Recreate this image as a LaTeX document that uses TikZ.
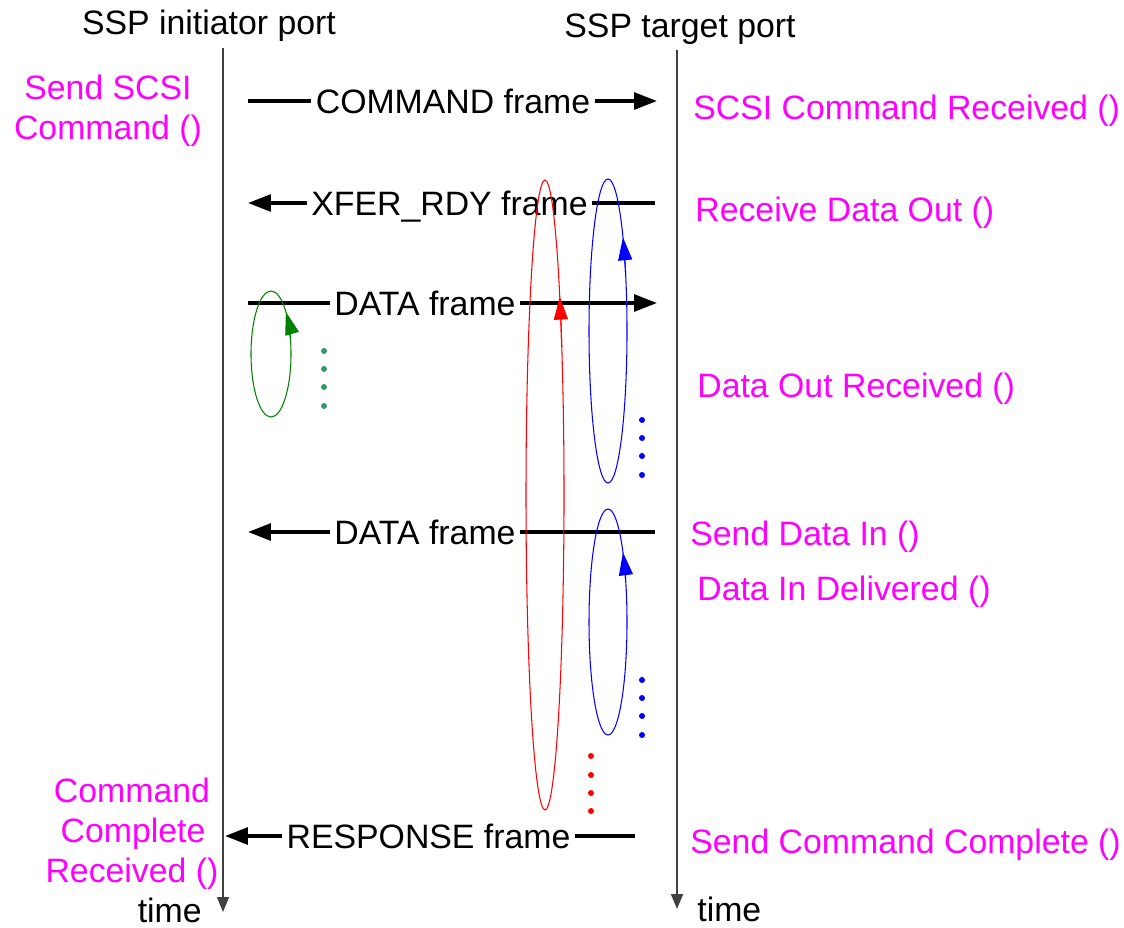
\documentclass[tikz,border=0pt]{standalone}
\usepackage{fontspec}
\setmainfont{Liberation Sans}
\usetikzlibrary{arrows.meta}

\definecolor{fnmag}{RGB}{255,0,255}
\definecolor{dotgreen}{RGB}{51,153,102}
\definecolor{loopgreen}{RGB}{0,128,0}

\tikzset{
  txt/.style={font=\fontsize{19.25}{23}\selectfont, inner sep=0pt, text height=13.8pt, text depth=0pt},
  fn/.style={txt, text=fnmag},
  msg/.style={txt, inner xsep=2.5pt},
  msgline/.style={line width=2pt},
  msgtip/.style={-{Triangle[length=13pt,width=9.5pt]}},
  timeline/.style={line width=0.85pt, draw=black!75, -{Triangle[length=8.5pt,width=6.8pt]}},
  loopline/.style={line width=0.6pt},
  looptip/.style={-{Triangle[length=13pt,width=8pt]}}
}

\begin{document}
\begin{tikzpicture}[x=0.02cm,y=-0.02cm]
  \useasboundingbox (0,0) rectangle (1124,927);

  \node[txt] (ini title) at (209,22) {SSP initiator port};
  \node[txt] (tgt title) at (680,25) {SSP target port};

  \coordinate (ini top) at (223,48);
  \coordinate (ini end) at (223,912);
  \draw[timeline] (ini top) -- (ini end);
  \node[txt, anchor=east] (ini time) at (202,910) {time};

  \coordinate (tgt top) at (677,50);
  \coordinate (tgt end) at (677,909);
  \draw[timeline] (tgt top) -- (tgt end);
  \node[txt, anchor=west] (tgt time) at (697,909) {time};

  \node[fn] (send cmd a) at (108,87) {Send SCSI};
  \node[fn] (send cmd b) at (108,127) {Command ()};
  \node[fn] (cmd done a) at (132,790) {Command};
  \node[fn] (cmd done b) at (133,830) {Complete};
  \node[fn] (cmd done c) at (132,870) {Received ()};

  \node[fn, anchor=west] (cmd rcvd) at (693,107) {SCSI Command Received ()};
  \node[fn, anchor=west] (rcv out) at (695,209) {Receive Data Out ()};
  \node[fn, anchor=west] (out rcvd) at (697,385) {Data Out Received ()};
  \node[fn, anchor=west] (send in) at (690,533) {Send Data In ()};
  \node[fn, anchor=west] (in dlvd) at (697,588) {Data In Delivered ()};
  \node[fn, anchor=west] (send done) at (690,841) {Send Command Complete ()};

  \coordinate (cmd s) at (248,101);
  \coordinate (cmd e) at (657,101);
  \node[msg] (cmd) at (453,101) {COMMAND frame};
  \draw[msgline] (cmd s) -- (cmd);
  \draw[msgline, msgtip] (cmd) -- (cmd e);

  \coordinate (xfer s) at (655,203);
  \coordinate (xfer e) at (248,203);
  \node[msg] (xfer) at (449.5,203) {XFER\_RDY frame};
  \draw[msgline] (xfer s) -- (xfer);
  \draw[msgline, msgtip] (xfer) -- (xfer e);

  \coordinate (dout s) at (248,303);
  \coordinate (dout e) at (657,303);
  \node[msg] (dout) at (425,303) {DATA frame};
  \draw[msgline] (dout s) -- (dout);
  \draw[msgline, msgtip] (dout) -- (dout e);

  \coordinate (din s) at (655,532);
  \coordinate (din e) at (248,532);
  \node[msg] (din) at (425,532) {DATA frame};
  \draw[msgline] (din s) -- (din);
  \draw[msgline, msgtip] (din) -- (din e);

  \coordinate (resp s) at (635,836);
  \coordinate (resp e) at (225,836);
  \node[msg] (resp) at (428.5,836) {RESPONSE frame};
  \draw[msgline] (resp s) -- (resp);
  \draw[msgline, msgtip] (resp) -- (resp e);

  \draw[loopgreen, loopline] (271,354) ellipse [x radius=20, y radius=63];
  \draw[loopgreen, loopline, looptip] (271,354) ++(-15:20 and 63)
    arc [start angle=-15, end angle=-42, x radius=20, y radius=63];
  \foreach \y in {351,369,387,406}
    \fill[dotgreen] (324,\y) circle [radius=3];

  \draw[red, loopline] (545,495) ellipse [x radius=19, y radius=315];
  \draw[red, loopline, looptip] (545,495) ++(-28:19 and 315)
    arc [start angle=-28, end angle=-39, x radius=19, y radius=315];
  \foreach \y in {756,775,793,811}
    \fill[red] (591,\y) circle [radius=3];

  \draw[blue, loopline] (608,331) ellipse [x radius=19, y radius=152];
  \draw[blue, loopline, looptip] (608,331) ++(-22:19 and 152)
    arc [start angle=-22, end angle=-38, x radius=19, y radius=152];
  \foreach \y in {420,438,456,475}
    \fill[blue] (642,\y) circle [radius=3];

  \draw[blue, loopline] (608,622) ellipse [x radius=19, y radius=113];
  \draw[blue, loopline, looptip] (608,622) ++(-22:19 and 113)
    arc [start angle=-22, end angle=-38, x radius=19, y radius=113];
  \foreach \y in {680,698,716,735}
    \fill[blue] (642,\y) circle [radius=3];
\end{tikzpicture}
\end{document}
